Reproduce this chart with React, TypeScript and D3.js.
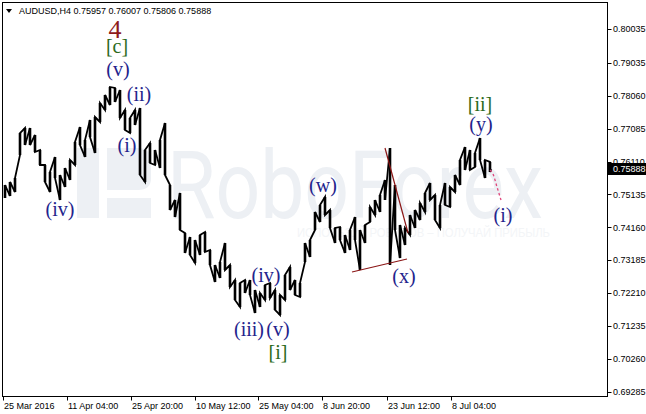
import * as d3 from "d3";

// H4 bars sampled every 5 bars (high / low)
const barHigh = [
  0.75415, 0.75504, 0.75623, 0.76955, 0.77103, 0.77103, 0.76896, 0.76452, 0.76008, 0.758,
  0.76245, 0.75712, 0.75919, 0.76156, 0.76689, 0.77133, 0.76748, 0.7734, 0.77429, 0.77844,
  0.78081, 0.78318, 0.78288, 0.78229, 0.77637, 0.774, 0.77637, 0.77696, 0.76452, 0.76659,
  0.76452, 0.76748, 0.77252, 0.75415, 0.74971, 0.75179, 0.73994, 0.73876, 0.73787, 0.73935,
  0.74024, 0.73491, 0.73046, 0.73135, 0.73698, 0.73046, 0.72602, 0.72513, 0.72602, 0.72602,
  0.72306, 0.72217, 0.72454, 0.72513, 0.72306, 0.72158, 0.7275, 0.72987, 0.72602, 0.72513,
  0.73698, 0.73787, 0.74616, 0.74823, 0.7506, 0.74675, 0.74142, 0.74172, 0.73935, 0.74083,
  0.74468, 0.74083, 0.74231, 0.74764, 0.74971, 0.75119, 0.75564, 0.76511, 0.75415, 0.74231,
  0.74142, 0.74527, 0.74675, 0.74882, 0.75179, 0.75475, 0.75119, 0.74823, 0.75475, 0.75356,
  0.75712, 0.76156, 0.76541, 0.76452, 0.76363, 0.76807, 0.76156, 0.76097,
];
const barLow = [
  0.7503, 0.7509, 0.75208, 0.76304, 0.766, 0.766, 0.76393, 0.76008, 0.75504, 0.75208,
  0.75623, 0.74971, 0.75356, 0.75564, 0.76008, 0.766, 0.76245, 0.76837, 0.76363, 0.77281,
  0.77637, 0.77785, 0.77873, 0.774, 0.77044, 0.76955, 0.77192, 0.75712, 0.75504, 0.76067,
  0.76008, 0.75919, 0.75712, 0.74675, 0.74468, 0.74083, 0.73402, 0.73342, 0.73106, 0.73342,
  0.73431, 0.73046, 0.72543, 0.72661, 0.72898, 0.72395, 0.7201, 0.71802, 0.72217, 0.72158,
  0.71625, 0.71802, 0.7201, 0.72069, 0.71714, 0.71566, 0.7201, 0.72306, 0.72158, 0.72099,
  0.73135, 0.73283, 0.74083, 0.7432, 0.74527, 0.74142, 0.73698, 0.73787, 0.73402, 0.73491,
  0.73787, 0.72898, 0.73698, 0.7432, 0.74527, 0.74616, 0.74971, 0.73046, 0.74083, 0.73254,
  0.73639, 0.73935, 0.74142, 0.74379, 0.74616, 0.74971, 0.74379, 0.74142, 0.74823, 0.74764,
  0.75208, 0.75415, 0.7586, 0.7586, 0.75949, 0.76156, 0.75623, 0.758,
];
const BAR_STEP = 5;
const BAR_START = 2;

const priceTicks = [
  0.80035, 0.79035, 0.7806, 0.77085, 0.7611, 0.75135, 0.7416, 0.73185, 0.7221, 0.71235,
  0.7026, 0.69285,
];
const priceTickLabels = [
  "0.80035", "0.79035", "0.78060", "0.77085", "0.76110", "0.75135", "0.74160", "0.73185",
  "0.72210", "0.71235", "0.70260", "0.69285",
];
const timeTickBars = [0, 64, 128, 192, 255, 319, 384, 448];
const timeTickLabels = [
  "25 Mar 2016", "11 Apr 04:00", "25 Apr 20:00", "10 May 12:00", "25 May 04:00",
  "8 Jun 20:00", "23 Jun 12:00", "8 Jul 04:00",
];
const lastPrice = 0.75888;
const title = "AUDUSD,H4  0.75957 0.76007 0.75806 0.75888";

// wave labels: text, bar, price, kind
const waveLabels: [string, number, number, string][] = [
  ["4", 112, 0.79769, "major"],
  ["[c]", 114, 0.79325, "minor"],
  ["(v)", 115, 0.78643, "minute"],
  ["(ii)", 136, 0.77903, "minute"],
  ["(i)", 124, 0.76393, "minute"],
  ["(iv)", 57, 0.74497, "minute"],
  ["(w)", 320, 0.75208, "minute"],
  ["(iv)", 263, 0.72543, "minute"],
  ["(iii)", 246, 0.70944, "minute"],
  ["(v)", 275, 0.70944, "minute"],
  ["[i]", 275, 0.70263, "minor"],
  ["(x)", 401, 0.72513, "minute"],
  ["[ii]", 477, 0.77607, "minor"],
  ["(y)", 478, 0.77015, "minute"],
  ["(i)", 500, 0.7432, "minute"],
];
// trend lines: [bar1, price1, bar2, price2]
const trendLines = [
  [382, 0.76511, 405, 0.73994],
  [349, 0.72839, 404, 0.73224],
];
const projBars = [487, 490, 494, 498];
const projPrices = [0.75860, 0.75741, 0.75356, 0.74971];

const W = 646;
const H = 414;
const PLOT = { left: 2.5, right: 607.5, top: 2.5, bottom: 396.5 };

const labelColor: Record<string, string> = {
  major: "#8e1b1b",
  minor: "#2c6a1c",
  minute: "#23238c",
};

export default function App() {
  const x = d3.scaleLinear().domain([0, 605]).range([3, 608]);
  const y = d3.scaleLinear().domain([0.69285, 0.80035]).range([392, 29]);

  const bars = barHigh.map((h, i) => ({
    bar: BAR_START + BAR_STEP * i,
    high: h,
    low: barLow[i],
  }));

  // zigzag through the bar ranges so it reads like a dense bar chart
  const pts: [number, number][] = [];
  bars.forEach((b, i) => {
    const next = bars[i + 1];
    const mid = (b.high + b.low) / 2;
    const rising = next ? (next.high + next.low) / 2 > mid : false;
    if (rising) {
      pts.push([x(b.bar), y(b.low)], [x(b.bar), y(b.high)]);
    } else {
      pts.push([x(b.bar), y(b.high)], [x(b.bar), y(b.low)]);
    }
  });
  pts.push([x(bars[bars.length - 1].bar + 1), y(lastPrice)]);
  const zig = d3.line()(pts) ?? "";

  const proj = d3
    .line<number>()
    .x((d) => x(d))
    .y((_, i) => y(projPrices[i]))
    .curve(d3.curveMonotoneX)(projBars) ?? "";

  const axisFont = "'Liberation Sans', Arial, sans-serif";

  return (
    <svg
      width={W}
      height={H}
      viewBox={`0 0 ${W} ${H}`}
      style={{ position: "absolute", left: 0, top: 0, background: "#fff" }}
    >
      <rect x={0} y={0} width={W} height={H} fill="#fff" />

      {/* watermark */}
      <g fill="#edf0f4">
        <rect x={77} y={148} width={22} height={70} />
        <path d="M107,148 H138 Q151,148 151,161 V178 Q151,190 138,190 H107 Z" />
        <rect x={107} y={198} width={44} height={20} />
        <text
          x={167}
          y={218}
          fontFamily="Roboto, 'Liberation Sans', sans-serif"
          fontSize={95}
          textLength={376}
          lengthAdjust="spacingAndGlyphs"
        >
          RoboForex
        </text>
        <text
          x={297}
          y={237}
          fontFamily={axisFont}
          fontSize={12}
          fill="#f3f5f7"
          textLength={253}
          lengthAdjust="spacingAndGlyphs"
        >
          ИСПОЛЬЗУЙ РОБОТОВ – ПОЛУЧАЙ ПРИБЫЛЬ
        </text>
      </g>

      {/* price bars */}
      <g stroke="#000" fill="none">
        {bars.map((b, i) => (
          <line
            key={i}
            x1={x(b.bar)}
            x2={x(b.bar)}
            y1={y(b.high)}
            y2={y(b.low)}
            strokeWidth={2.6}
          />
        ))}
        <path d={zig} strokeWidth={1.8} strokeLinejoin="miter" />
      </g>

      {/* trend lines */}
      {trendLines.map((t, i) => (
        <line
          key={i}
          x1={x(t[0])}
          y1={y(t[1])}
          x2={x(t[2])}
          y2={y(t[3])}
          stroke="#8b1616"
          strokeWidth={1.2}
        />
      ))}
      <path d={proj} fill="none" stroke="#e0457b" strokeWidth={1.3} strokeDasharray="2.5,2.5" />

      {/* wave labels */}
      {waveLabels.map(([t, b, p, kind], i) => (
        <text
          key={i}
          x={x(b)}
          y={y(p)}
          textAnchor="middle"
          fontFamily="'Liberation Serif', 'Times New Roman', serif"
          fontSize={kind === "major" ? 26 : 20}
          fill={labelColor[kind]}
        >
          {t}
        </text>
      ))}

      {/* frame */}
      <rect
        x={PLOT.left}
        y={PLOT.top}
        width={PLOT.right - PLOT.left}
        height={PLOT.bottom - PLOT.top}
        fill="none"
        stroke="#000"
        strokeWidth={1}
      />

      {/* price axis */}
      <g fontFamily={axisFont} fontSize={9} fill="#000">
        {priceTicks.map((p, i) => (
          <g key={i}>
            <line x1={PLOT.right} x2={PLOT.right + 4} y1={Math.round(y(p)) + 0.5} y2={Math.round(y(p)) + 0.5} stroke="#000" />
            <text x={613} y={y(p)} dy="0.35em">
              {priceTickLabels[i]}
            </text>
          </g>
        ))}
        <rect x={608} y={Math.round(y(lastPrice)) - 6} width={38} height={12} fill="#000" />
        <text x={613} y={y(lastPrice)} dy="0.35em" fill="#fff">
          {lastPrice.toFixed(5)}
        </text>
      </g>

      {/* time axis */}
      <g fontFamily={axisFont} fontSize={9} fill="#000">
        {timeTickBars.map((b, i) => (
          <g key={i}>
            <line
              x1={Math.round(x(b)) + 0.5}
              x2={Math.round(x(b)) + 0.5}
              y1={PLOT.bottom}
              y2={PLOT.bottom + 4}
              stroke="#000"
            />
            <text x={x(b) + 1} y={409}>
              {timeTickLabels[i]}
            </text>
          </g>
        ))}
      </g>

      {/* title */}
      <path d="M6,9 L12,9 L9,13 Z" fill="#000" />
      <text x={19} y={14} fontFamily={axisFont} fontSize={9} fill="#000">
        {title}
      </text>
    </svg>
  );
}
